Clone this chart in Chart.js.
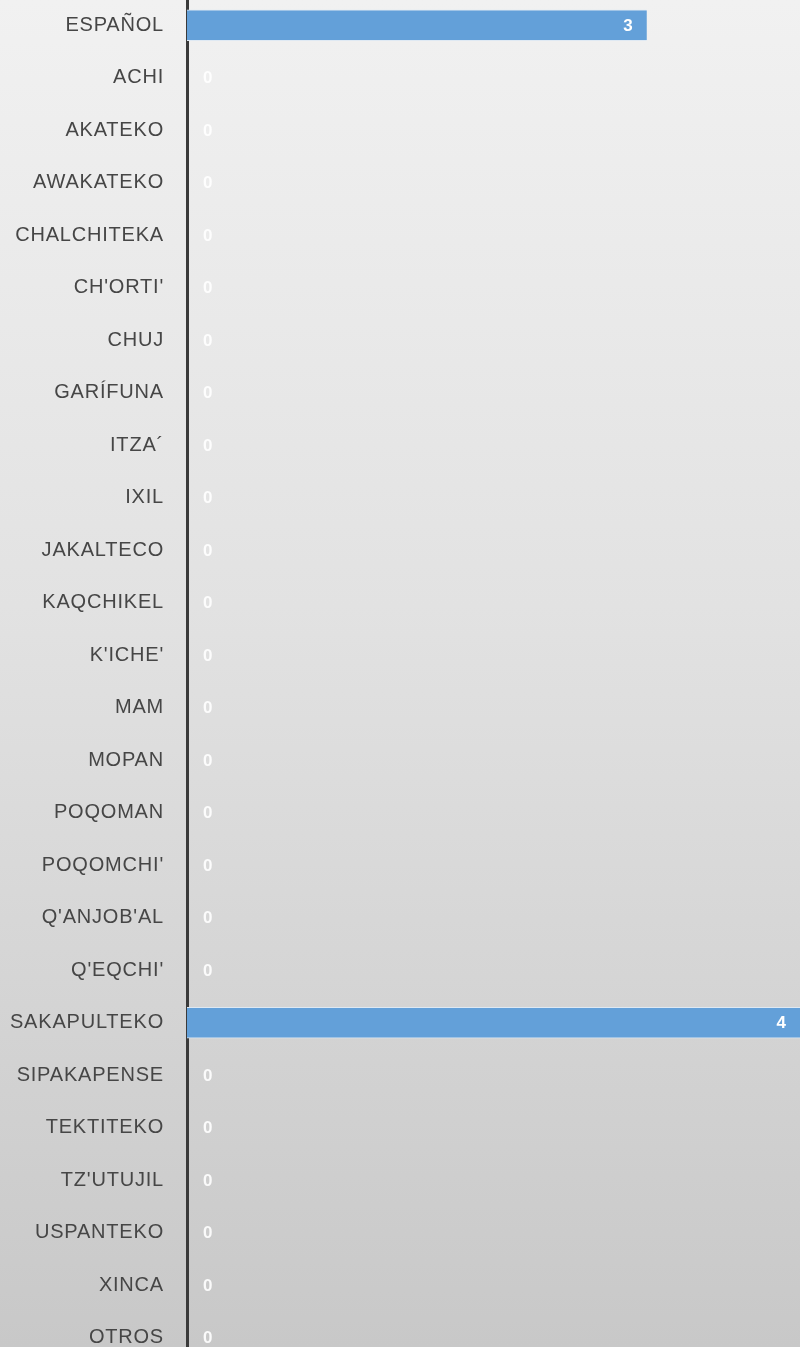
<!DOCTYPE html>
<html>
<head>
<meta charset="utf-8">
<script src="https://cdn.jsdelivr.net/npm/chart.js"></script>
<style>
  html, body {
    margin: 0;
    padding: 0;
    width: 800px;
    height: 1347px;
    overflow: hidden;
  }
  body {
    background: linear-gradient(to bottom, #f1f1f1 0%, #e2e2e2 45%, #c8c8c8 100%);
    position: relative;
  }
  #chart {
    position: absolute;
    left: 0;
    top: -36px;
  }
</style>
</head>
<body>
<canvas id="chart" width="800" height="1435"></canvas>
<script>
// Idiomas - número de registros por idioma
const categories = [
  "ESPAÑOL", "ACHI", "AKATEKO", "AWAKATEKO", "CHALCHITEKA", "CH'ORTI'",
  "CHUJ", "GARÍFUNA", "ITZA´", "IXIL", "JAKALTECO", "KAQCHIKEL", "K'ICHE'",
  "MAM", "MOPAN", "POQOMAN", "POQOMCHI'", "Q'ANJOB'AL", "Q'EQCHI'",
  "SAKAPULTEKO", "SIPAKAPENSE", "TEKTITEKO", "TZ'UTUJIL", "USPANTEKO",
  "XINCA", "OTROS"
];
const values = [
  3, 0, 0, 0, 0, 0,
  0, 0, 0, 0, 0, 0, 0,
  0, 0, 0, 0, 0, 0,
  4, 0, 0, 0, 0,
  0, 0
];
const axisMin = 0;
const axisMax = 4;

// a little tracking on the category labels, like the original font
const labelSpacing = {
  id: "labelSpacing",
  beforeDraw(chart) {
    chart.ctx.letterSpacing = "0.8px";
  },
};

// draws the value at the end of each bar (inside), or just right of the axis for zeros
const valueLabels = {
  id: "valueLabels",
  afterDatasetsDraw(chart) {
    const ctx = chart.ctx;
    const meta = chart.getDatasetMeta(0);
    ctx.save();
    ctx.letterSpacing = "0px";
    ctx.font = "bold 17px 'Liberation Sans', Arial, sans-serif";
    ctx.textBaseline = "middle";
    meta.data.forEach((bar, i) => {
      const v = values[i];
      if (v > 0) {
        ctx.fillStyle = "#ffffff";
        ctx.textAlign = "right";
        ctx.fillText(String(v), bar.x - 14, bar.y + 1);
      } else {
        ctx.fillStyle = "rgba(255,255,255,0.9)";
        ctx.textAlign = "left";
        ctx.fillText(String(v), bar.base + 16, bar.y + 1);
      }
    });
    ctx.restore();
  },
};

new Chart(document.getElementById("chart"), {
  type: "bar",
  data: {
    labels: categories,
    datasets: [
      {
        data: values,
        backgroundColor: "#63a0d9",
        borderColor: "#dfe9f3",
        borderWidth: { top: 1, bottom: 1, left: 0, right: 0 },
        borderSkipped: false,
        barThickness: 31,
      },
    ],
  },
  options: {
    indexAxis: "y",
    responsive: false,
    animation: false,
    devicePixelRatio: 1,
    layout: { padding: 0 },
    plugins: {
      legend: { display: false },
      tooltip: { enabled: false },
    },
    scales: {
      x: {
        display: false,
        min: axisMin,
        max: axisMax,
      },
      y: {
        afterFit: (scale) => {
          scale.width = 187;
        },
        grid: { display: false, drawTicks: false },
        border: { display: true, color: "#3a3a3a", width: 3 },
        ticks: {
          padding: 23,
          color: "#464646",
          font: { family: "'Liberation Sans', Arial, sans-serif", size: 20 },
        },
      },
    },
  },
  plugins: [labelSpacing, valueLabels],
});
</script>
</body>
</html>
